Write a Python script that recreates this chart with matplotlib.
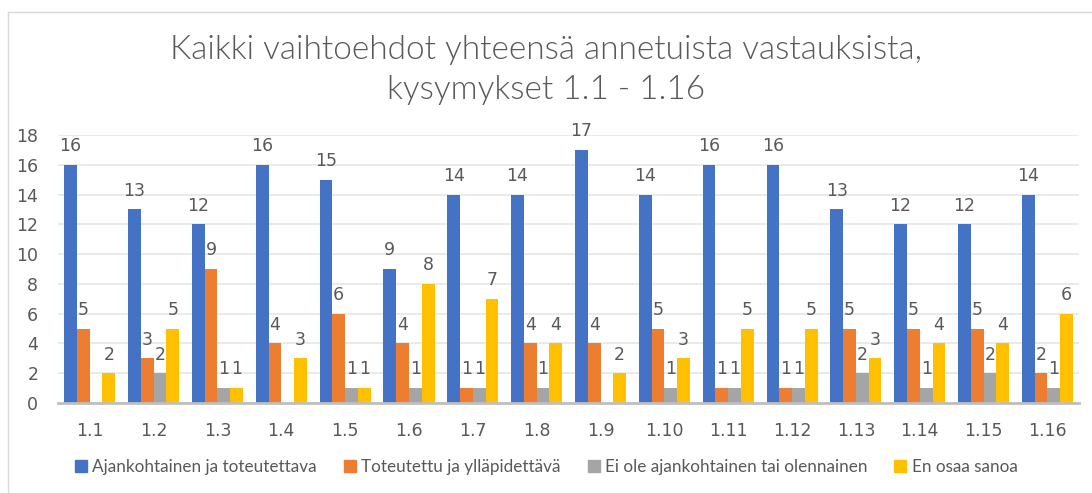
import matplotlib
matplotlib.use("Agg")
import matplotlib.pyplot as plt
import numpy as np
from matplotlib.lines import Line2D

categories = ["1.1", "1.2", "1.3", "1.4", "1.5", "1.6", "1.7", "1.8",
              "1.9", "1.10", "1.11", "1.12", "1.13", "1.14", "1.15", "1.16"]
series_names = ["Ajankohtainen ja toteutettava", "Toteutettu ja ylläpidettävä",
                "Ei ole ajankohtainen tai olennainen", "En osaa sanoa"]
ajankohtainen = [16, 13, 12, 16, 15, 9, 14, 14, 17, 14, 16, 16, 13, 12, 12, 14]
toteutettu = [5, 3, 9, 4, 6, 4, 1, 4, 4, 5, 1, 1, 5, 5, 5, 2]
ei_ole = [0, 2, 1, 0, 1, 1, 1, 1, 0, 1, 1, 1, 2, 1, 2, 1]
en_osaa = [2, 5, 1, 3, 1, 8, 7, 4, 2, 3, 5, 5, 3, 4, 4, 6]
colors = ["#4472C4", "#ED7D31", "#A5A5A5", "#FFC000"]
title = "Kaikki vaihtoehdot yhteensä annetuista vastauksista,\nkysymykset 1.1 - 1.16"
yticks = [0, 2, 4, 6, 8, 10, 12, 14, 16, 18]

text_color = "#595959"
plt.rcParams['font.family'] = ["Lato", "DejaVu Sans"]

W, H = 1092, 493
fig = plt.figure(figsize=(W / 100, H / 100), dpi=100)
ax = fig.add_axes([57.8 / W, (H - 403) / H, (1079.4 - 57.8) / W, (403 - 135) / H])

all_series = [ajankohtainen, toteutettu, ei_ole, en_osaa]
x = np.arange(len(categories))
bw = 0.2
for i, (vals, c, name) in enumerate(zip(all_series, colors, series_names)):
    pos = x + (i - 1.5) * bw
    ax.bar(pos, vals, width=bw, color=c, label=name, zorder=3)
    for xp, v in zip(pos, vals):
        if v > 0:
            ax.annotate(str(v), (xp, v), xytext=(0, 7), textcoords="offset points",
                        ha="center", va="bottom", fontsize=12.5, color=text_color,
                        family=["DejaVu Sans"])

ax.set_ylim(0, 18)
ax.set_xlim(-0.5, len(categories) - 0.5)
ax.set_yticks(yticks)
ax.set_xticks(x)
ax.set_xticklabels(categories)
ax.tick_params(axis="both", length=0, labelsize=12.5, colors=text_color)
ax.tick_params(axis="x", pad=14)
ax.tick_params(axis="y", pad=14)
for lab in ax.get_xticklabels() + ax.get_yticklabels():
    lab.set_family(["DejaVu Sans"])
ax.grid(axis="y", color="#E6E6E6", linewidth=1.2, zorder=0)
for s in ["top", "right", "left"]:
    ax.spines[s].set_visible(False)
ax.spines["bottom"].set_color("#BFBFBF")
ax.spines["bottom"].set_linewidth(2)
ax.spines["bottom"].set_zorder(4)

fig.text(0.5, 1 - 70 / H, title, ha="center", va="center", fontsize=24,
         color=text_color, linespacing=1.45, fontweight=300)

handles = [plt.Rectangle((0, 0), 1, 1, color=c) for c in colors]
fig.legend(handles, series_names, loc="center", bbox_to_anchor=(0.5, 1 - 467 / H),
           ncol=4, frameon=False, fontsize=12.3, labelcolor=text_color,
           handlelength=0.7, handleheight=0.7, handletextpad=0.3, columnspacing=1.6)

fig.add_artist(Line2D([8 / W, 8 / W], [0, 1 - 12 / H], transform=fig.transFigure,
                      color="#D9D9D9", linewidth=1))
fig.add_artist(Line2D([8 / W, 1], [1 - 12 / H, 1 - 12 / H], transform=fig.transFigure,
                      color="#D9D9D9", linewidth=1))

fig.savefig("out.png", dpi=100)
